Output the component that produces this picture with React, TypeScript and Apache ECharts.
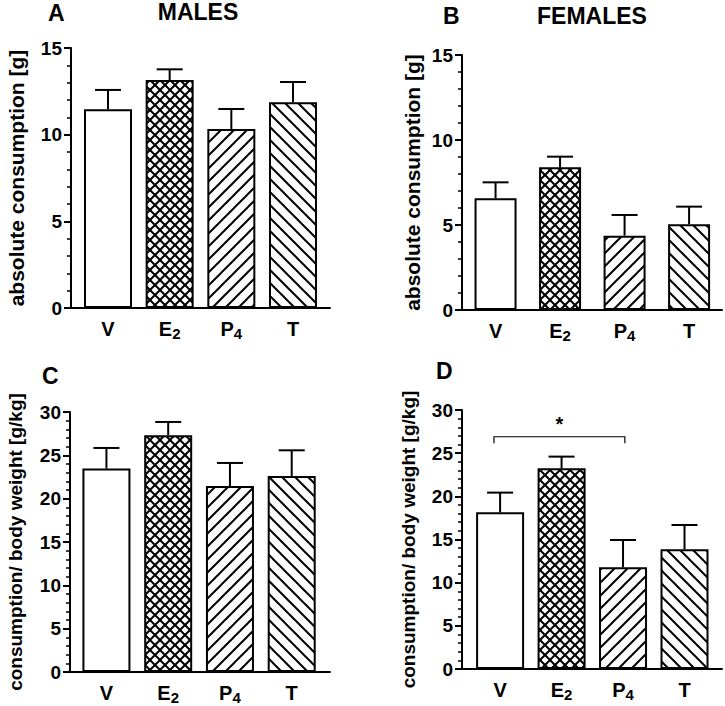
import React, { useEffect, useRef } from "react";
import * as echarts from "echarts";

// ---- data ----
const categories = ["V", "E2", "P4", "T"];
const patterns = ["none", "cross", "forward", "backward"];

const malesAbsMean = [11.46, 13.15, 10.33, 11.87];
const malesAbsSem = [1.12, 0.62, 1.15, 1.17];
const femalesAbsMean = [6.57, 8.39, 4.37, 5.04];
const femalesAbsSem = [0.94, 0.63, 1.22, 1.04];
const malesRelMean = [23.47, 27.31, 21.46, 22.62];
const malesRelSem = [2.38, 1.54, 2.66, 2.96];
const femalesRelMean = [18.15, 23.25, 11.78, 13.86];
const femalesRelSem = [2.28, 1.35, 3.16, 2.82];

const absTicks = [0, 5, 10, 15];
const relTicks = [0, 5, 10, 15, 20, 25, 30];

// significance bracket in panel D: from category V to P4, at value 26.9
const sigFrom = [-0.1];
const sigTo = [2.03];
const sigLevel = [26.9];
const sigLabel = ["*"];

const FONT = '"Liberation Sans", Arial, Helvetica, sans-serif';

function makePattern(kind: string): any {
  if (kind === "none") return "#ffffff";
  const S = kind === "cross" ? 10 : 13;
  const c = document.createElement("canvas");
  c.width = S;
  c.height = S;
  const ctx = c.getContext("2d") as CanvasRenderingContext2D;
  ctx.fillStyle = "#ffffff";
  ctx.fillRect(0, 0, S, S);
  ctx.strokeStyle = "#000000";
  ctx.lineWidth = 2;
  ctx.lineCap = "square";
  const fwd = () => {
    ctx.beginPath();
    ctx.moveTo(0, S);
    ctx.lineTo(S, 0);
    ctx.moveTo(-2, 2);
    ctx.lineTo(2, -2);
    ctx.moveTo(S - 2, S + 2);
    ctx.lineTo(S + 2, S - 2);
    ctx.stroke();
  };
  const back = () => {
    ctx.beginPath();
    ctx.moveTo(0, 0);
    ctx.lineTo(S, S);
    ctx.moveTo(-2, S - 2);
    ctx.lineTo(2, S + 2);
    ctx.moveTo(S - 2, -2);
    ctx.lineTo(S + 2, 2);
    ctx.stroke();
  };
  if (kind === "cross") {
    fwd();
    back();
  } else if (kind === "forward") fwd();
  else back();
  return { image: c, repeat: "repeat" };
}

function richLabel(name: string): string {
  const m = name.match(/^([A-Za-z]+)(\d*)$/);
  if (!m) return `{b|${name}}`;
  return m[2] ? `{b|${m[1]}}{s|${m[2]}}` : `{b|${m[1]}}`;
}

export default function App() {
  const ref = useRef<HTMLDivElement>(null);

  useEffect(() => {
    if (!ref.current) return;
    const chart = echarts.init(ref.current, undefined, { renderer: "svg" });

    const fills = patterns.map(makePattern);

    const panels = [
      { mean: malesAbsMean, sem: malesAbsSem, ticks: absTicks, grid: { left: 71, top: 48, width: 259, height: 260 }, xMin: -0.6, xMax: 3.6, barWidth: 48, yName: "absolute consumption [g]", nameSize: 21, nameGap: 44 },
      { mean: femalesAbsMean, sem: femalesAbsSem, ticks: absTicks, grid: { left: 462, top: 55, width: 260, height: 255 }, xMin: -0.52, xMax: 3.51, barWidth: 42, yName: "absolute consumption [g]", nameSize: 21, nameGap: 39 },
      { mean: malesRelMean, sem: malesRelSem, ticks: relTicks, grid: { left: 70, top: 412, width: 260, height: 260 }, xMin: -0.59, xMax: 3.62, barWidth: 48, yName: "consumption/ body weight [g/kg]", nameSize: 19, nameGap: 45 },
      { mean: femalesRelMean, sem: femalesRelSem, ticks: relTicks, grid: { left: 462, top: 410, width: 260, height: 259 }, xMin: -0.62, xMax: 3.61, barWidth: 48, yName: "consumption/ body weight [g/kg]", nameSize: 19, nameGap: 44 },
    ];

    const grids: any[] = [];
    const xAxes: any[] = [];
    const yAxes: any[] = [];
    const series: any[] = [];

    panels.forEach((p, i) => {
      grids.push({ ...p.grid, containLabel: false, outerBoundsMode: "none" });
      xAxes.push({
        type: "value",
        gridIndex: i,
        min: p.xMin,
        max: p.xMax,
        splitLine: { show: false },
        axisTick: { show: false },
        axisLine: { show: true, onZero: false, lineStyle: { color: "#000", width: 2 } },
        axisLabel: {
          customValues: categories.map((_, k) => k),
          formatter: (v: number) => richLabel(categories[Math.round(v)] ?? ""),
          margin: 9,
          color: "#000",
          rich: {
            b: { fontFamily: FONT, fontWeight: "bold", fontSize: 20, color: "#000", lineHeight: 24, verticalAlign: "middle" },
            s: { fontFamily: FONT, fontWeight: "bold", fontSize: 15, color: "#000", lineHeight: 24, verticalAlign: "bottom" },
          },
        },
      });
      const maxT = p.ticks[p.ticks.length - 1];
      yAxes.push({
        type: "value",
        gridIndex: i,
        min: p.ticks[0],
        max: maxT,
        interval: p.ticks[1] - p.ticks[0],
        name: p.yName,
        nameLocation: "middle",
        nameGap: p.nameGap,
        nameMoveOverlap: false,
        nameTextStyle: { fontFamily: FONT, fontWeight: "bold", fontSize: p.nameSize, color: "#000" },
        splitLine: { show: false },
        axisLine: { show: true, onZero: false, lineStyle: { color: "#000", width: 2 } },
        axisTick: { show: true, length: 7, lineStyle: { color: "#000", width: 2 } },
        minorTick: { show: true, splitNumber: 5, length: 4, lineStyle: { color: "#000", width: 1.5 } },
        minorSplitLine: { show: false },
        axisLabel: { fontFamily: FONT, fontWeight: "bold", fontSize: 19, color: "#000", margin: 9 },
      });
      series.push({
        type: "bar",
        xAxisIndex: i,
        yAxisIndex: i,
        barWidth: p.barWidth,
        data: p.mean.map((v, k) => ({
          value: [k, v],
          itemStyle: { color: fills[k], borderColor: "#000", borderWidth: 2 },
        })),
        z: 2,
      });
      series.push({
        type: "custom",
        xAxisIndex: i,
        yAxisIndex: i,
        z: 3,
        encode: { x: 0, y: 1 },
        data: p.mean.map((v, k) => [k, v, p.sem[k]]),
        renderItem: (params: any, api: any) => {
          const x = api.value(0);
          const m = api.value(1);
          const e = api.value(2);
          const p0 = api.coord([x, m]);
          const p1 = api.coord([x, m + e]);
          return {
            type: "group",
            children: [
              { type: "line", shape: { x1: p0[0], y1: p0[1], x2: p1[0], y2: p1[1] }, style: { stroke: "#000", lineWidth: 2 } },
              { type: "line", shape: { x1: p1[0] - 13, y1: p1[1], x2: p1[0] + 13, y2: p1[1] }, style: { stroke: "#000", lineWidth: 2 } },
            ],
          };
        },
      });
    });

    // significance bracket (panel D)
    series.push({
      type: "custom",
      xAxisIndex: 3,
      yAxisIndex: 3,
      z: 4,
      encode: { x: [0, 1], y: 2 },
      data: sigFrom.map((f, k) => [f, sigTo[k], sigLevel[k]]),
      renderItem: (params: any, api: any) => {
        const a = api.coord([api.value(0), api.value(2)]);
        const b = api.coord([api.value(1), api.value(2)]);
        const legEnd = api.coord([api.value(0), api.value(2) - 0.75]);
        const leg = legEnd[1] - a[1];
        return {
          type: "group",
          children: [
            {
              type: "polyline",
              shape: { points: [[a[0], a[1] + leg], [a[0], a[1]], [b[0], b[1]], [b[0], b[1] + leg]] },
              style: { stroke: "#000", lineWidth: 1.2, fill: "none" },
            },
            {
              type: "text",
              style: {
                text: sigLabel[params.dataIndex],
                x: (a[0] + b[0]) / 2,
                y: a[1] - 3,
                textAlign: "center",
                textVerticalAlign: "bottom",
                font: `bold 20px ${FONT}`,
                fill: "#000",
              },
            },
          ],
        };
      },
    });

    const titleStyle = (text: string, x: number, y: number, align: string) => ({
      type: "text",
      x,
      y,
      style: { text, font: `bold 23px ${FONT}`, fill: "#000", textAlign: align, textVerticalAlign: "top" },
    });

    chart.setOption({
      animation: false,
      backgroundColor: "#ffffff",
      grid: grids,
      xAxis: xAxes,
      yAxis: yAxes,
      series,
      graphic: [
        titleStyle("A", 48, 1, "left"),
        titleStyle("MALES", 198, 0, "center"),
        titleStyle("B", 443, 4, "left"),
        titleStyle("FEMALES", 592, 4, "center"),
        titleStyle("C", 42, 364, "left"),
        titleStyle("D", 436, 359, "left"),
      ],
    });

    return () => chart.dispose();
  }, []);

  return (
    <div
      ref={ref}
      style={{ position: "fixed", left: 0, top: 0, width: 725, height: 706, background: "#fff" }}
    />
  );
}
